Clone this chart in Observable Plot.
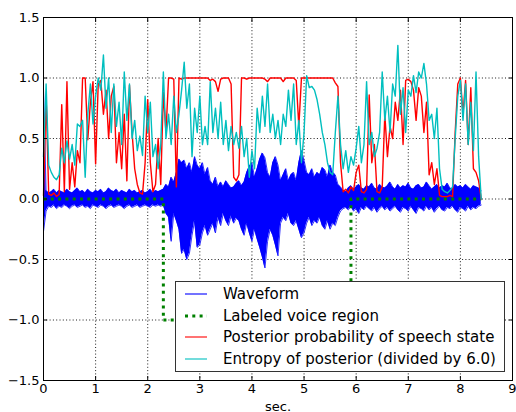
<!DOCTYPE html>
<html><head><meta charset="utf-8">
<script src="https://cdn.jsdelivr.net/npm/d3@7"></script>
<script src="https://cdn.jsdelivr.net/npm/@observablehq/plot@0.6"></script>
<style>
body{margin:0;background:#fff;font-family:"DejaVu Sans",sans-serif;}
#wrap{position:relative;width:516px;height:412px;}
#legend{position:absolute;left:175px;top:281px;width:330px;height:91px;border:1px solid #333;background:#fff;box-sizing:border-box;}
.row{position:absolute;left:0;height:20px;display:flex;align-items:center;font-size:15px;color:#000;white-space:nowrap;}
.row svg{display:block;}
</style></head><body><div id="wrap"></div>
<script>
// sample step (seconds) of every series below, one row per second
const dt = 0.05;

const posteriorRows = [
 [0.03,0.85,0.04,0.03,0.05,0.02,0.04,0.78,0.06,0.97,0.08,0.30,0.10,0.40,0.30,1.00,1.00,0.49,0.80,0.97],
 [0.29,0.95,0.98,0.70,0.90,0.50,0.85,0.93,0.30,0.55,0.25,0.70,0.15,0.94,0.55,0.25,0.12,0.05,0.04,0.30],
 [0.82,0.30,0.06,0.12,0.50,0.12,0.88,0.55,1.00,1.00,0.99,0.10,1.00,0.99,1.00,1.00,1.00,1.00,1.00,1.00],
 [1.00,1.00,1.00,1.00,0.98,0.99,0.97,0.89,0.99,1.00,1.00,1.00,0.95,0.18,0.15,0.20,1.00,1.00,0.99,1.00],
 [1.00,1.00,1.00,1.00,1.00,0.99,0.97,1.00,1.00,1.00,1.00,1.00,0.97,1.00,1.00,1.00,1.00,0.98,0.60,1.00],
 [1.00,1.00,1.00,1.00,1.00,1.00,1.00,1.00,1.00,1.00,1.00,1.00,0.96,0.93,0.30,0.06,0.08,0.05,0.10,0.07],
 [0.22,0.28,0.06,0.05,0.08,0.86,0.30,0.45,0.06,0.05,0.10,0.70,0.35,0.60,0.50,0.80,0.65,0.90,0.45,0.98],
 [0.99,0.97,0.90,0.65,0.92,0.85,0.55,0.80,0.20,0.30,0.12,0.25,0.03,0.02,0.02,0.02,0.03,0.02,0.55,0.95],
 [1.00,0.70,0.98,0.45,0.92,0.25,0.22,0.15,0.00]
];

const entropyRows = [
 [0.35,0.95,0.28,0.22,0.18,0.16,0.20,0.42,0.30,0.48,0.33,0.45,0.28,0.62,0.60,0.65,0.18,0.70,0.95,0.62],
 [0.85,1.00,0.90,1.19,0.75,1.00,0.55,0.95,0.60,0.80,0.45,1.05,0.65,0.95,0.50,0.65,0.40,0.52,0.36,0.85],
 [0.55,0.80,0.35,0.45,0.25,0.45,1.05,0.50,0.70,0.45,0.85,0.55,0.70,0.90,1.13,0.75,0.95,0.35,0.75,0.55],
 [0.85,0.45,0.60,0.45,0.97,0.55,0.75,0.50,0.80,0.45,0.65,0.40,0.60,0.45,0.55,0.42,0.60,0.35,0.50,0.18],
 [0.40,0.25,0.75,0.55,0.85,0.60,0.95,0.55,0.70,0.50,0.65,0.45,0.70,0.60,0.90,0.65,0.95,0.45,0.65,0.30],
 [0.55,1.02,0.92,0.93,0.90,0.82,0.70,0.55,0.45,0.30,0.22,0.20,0.55,0.85,0.45,0.25,0.40,0.22,0.35,0.28],
 [0.42,0.60,0.30,0.45,0.97,0.45,0.55,0.35,0.42,0.55,1.05,0.65,0.85,0.55,0.95,0.85,1.27,0.70,0.92,0.55],
 [0.90,0.85,1.02,0.88,1.05,1.00,1.12,0.95,0.65,0.70,0.50,0.75,0.25,0.08,0.06,0.05,0.07,0.10,0.50,0.85],
 [0.98,0.65,0.95,0.45,0.80,0.40,1.05,0.35,0.00]
];

const waveUpperRows = [
 [0.91,0.07,0.05,0.06,0.08,0.05,0.07,0.06,0.05,0.08,0.06,0.05,0.07,0.09,0.06,0.07,0.05,0.08,0.06,0.05],
 [0.07,0.06,0.08,0.05,0.06,0.09,0.07,0.06,0.08,0.05,0.07,0.06,0.05,0.08,0.06,0.07,0.05,0.06,0.07,0.05],
 [0.06,0.08,0.05,0.07,0.06,0.07,0.08,0.12,0.10,0.18,0.14,0.22,0.33,0.30,0.32,0.25,0.30,0.22,0.35,0.28],
 [0.25,0.30,0.20,0.26,0.15,0.12,0.18,0.10,0.14,0.10,0.15,0.12,0.09,0.10,0.13,0.15,0.11,0.14,0.22,0.27],
 [0.30,0.18,0.25,0.33,0.38,0.34,0.22,0.18,0.30,0.35,0.28,0.15,0.20,0.25,0.15,0.20,0.22,0.15,0.30,0.40],
 [0.32,0.22,0.20,0.25,0.18,0.22,0.20,0.26,0.24,0.18,0.28,0.22,0.20,0.12,0.10,0.07,0.06,0.09,0.11,0.08],
 [0.10,0.12,0.09,0.08,0.11,0.10,0.13,0.09,0.08,0.12,0.10,0.09,0.11,0.14,0.10,0.08,0.12,0.09,0.11,0.10],
 [0.13,0.09,0.08,0.11,0.12,0.09,0.10,0.14,0.11,0.08,0.10,0.12,0.09,0.11,0.10,0.13,0.09,0.08,0.12,0.10],
 [0.11,0.09,0.12,0.10,0.08,0.11,0.10,0.09,0.07]
];

const waveLowerRows = [
 [-0.27,-0.10,-0.06,-0.07,-0.05,-0.08,-0.06,-0.07,-0.05,-0.06,-0.08,-0.06,-0.05,-0.07,-0.06,-0.05,-0.07,-0.06,-0.08,-0.05],
 [-0.06,-0.07,-0.05,-0.06,-0.08,-0.06,-0.05,-0.07,-0.06,-0.05,-0.06,-0.08,-0.06,-0.05,-0.07,-0.06,-0.05,-0.07,-0.06,-0.05],
 [-0.06,-0.07,-0.05,-0.06,-0.05,-0.06,-0.05,-0.12,-0.15,-0.35,-0.12,-0.18,-0.25,-0.45,-0.42,-0.50,-0.45,-0.30,-0.18,-0.40],
 [-0.38,-0.28,-0.22,-0.30,-0.25,-0.20,-0.28,-0.15,-0.22,-0.12,-0.18,-0.22,-0.14,-0.20,-0.16,-0.18,-0.25,-0.30,-0.20,-0.28],
 [-0.35,-0.25,-0.33,-0.40,-0.48,-0.57,-0.35,-0.25,-0.30,-0.38,-0.47,-0.20,-0.15,-0.18,-0.12,-0.20,-0.22,-0.18,-0.25,-0.32],
 [-0.28,-0.20,-0.15,-0.22,-0.18,-0.20,-0.15,-0.22,-0.25,-0.18,-0.25,-0.20,-0.22,-0.15,-0.10,-0.08,-0.07,-0.09,-0.06,-0.10],
 [-0.08,-0.12,-0.07,-0.09,-0.06,-0.08,-0.10,-0.07,-0.11,-0.08,-0.06,-0.09,-0.07,-0.10,-0.08,-0.06,-0.09,-0.11,-0.07,-0.08],
 [-0.10,-0.06,-0.09,-0.12,-0.07,-0.08,-0.10,-0.06,-0.09,-0.07,-0.11,-0.08,-0.06,-0.09,-0.10,-0.07,-0.08,-0.06,-0.09,-0.11],
 [-0.07,-0.08,-0.10,-0.06,-0.09,-0.07,-0.08,-0.06,-0.05]
];

// labeled voice region (step function)
const labelTimes  = [0, 2.3, 2.3, 5.9, 5.9, 8.4];
const labelValues = [0, 0, -1, -1, 0, 0];

const xTicks = [0,1,2,3,4,5,6,7,8,9];
const yTicks = [-1.5,-1.0,-0.5,0.0,0.5,1.0,1.5];

const seriesNames = ["Waveform","Labeled voice region","Posterior probability of speech state","Entropy of posterior (divided by 6.0)"];
const seriesColors = ["#0000ff","#008000","#ff0000","#00bfbf"];

const posterior = posteriorRows.flat();
const entropy = entropyRows.flat();
const waveUpper = waveUpperRows.flat();
const waveLower = waveLowerRows.flat();
const n = Math.min(posterior.length, entropy.length, waveUpper.length, waveLower.length);
const frames = d3.range(n).map(i => ({t: +(i*dt).toFixed(3), hi: waveUpper[i], lo: waveLower[i], post: posterior[i], ent: entropy[i]}));
const labelPts = labelTimes.map((t,i) => ({t, v: labelValues[i]}));

const gridStyle = {stroke:"black", strokeOpacity:1, strokeWidth:0.9, strokeDasharray:"1,2.3"};
const fmt = d3.format(".1f");

const chart = Plot.plot({
  width: 516, height: 412,
  marginLeft: 43, marginRight: 4, marginTop: 17, marginBottom: 32,
  x: {domain: [0, 9]},
  y: {domain: [-1.5, 1.5]},
  style: {fontFamily: "'DejaVu Sans', sans-serif", fontSize: "13px", background: "white", color: "black", overflow: "visible"},
  marks: [
    Plot.gridX(xTicks, gridStyle),
    Plot.gridY(yTicks, gridStyle),
    Plot.areaY(frames, {x:"t", y1:"lo", y2:"hi", fill: seriesColors[0]}),
    Plot.line(frames, {x:"t", y:"hi", stroke: seriesColors[0], strokeWidth:0.8}),
    Plot.line(frames, {x:"t", y:"lo", stroke: seriesColors[0], strokeWidth:0.8}),
    Plot.line(labelPts, {x:"t", y:"v", stroke: seriesColors[1], strokeWidth:3, strokeDasharray:"3,4.3", strokeLinecap:"butt"}),
    Plot.line(frames, {x:"t", y:"post", stroke: seriesColors[2], strokeWidth:1.4}),
    Plot.line(frames, {x:"t", y:"ent", stroke: seriesColors[3], strokeWidth:1.4}),
    Plot.frame({stroke:"black", strokeWidth:1}),
    Plot.axisX(xTicks, {tickSize:-4, tickPadding:7, label:"sec.", labelAnchor:"center", labelArrow:"none", labelOffset:30, fontSize:13}),
    Plot.axisX(xTicks, {anchor:"top", tickSize:-4, tickFormat:() => "", label:null}),
    Plot.axisY(yTicks, {tickSize:-4, tickPadding:8, tickFormat: fmt, label:null, fontSize:13}),
    Plot.axisY(yTicks, {anchor:"right", tickSize:-4, tickFormat:() => "", label:null})
  ]
});
const wrap = document.getElementById("wrap");
wrap.appendChild(chart);

// legend box inside the axes (lower right)
const legend = d3.select(wrap).append("div").attr("id","legend");
const rowCenters = [11.7, 33.5, 55.3, 77];
seriesNames.forEach((name, i) => {
  const row = legend.append("div").attr("class","row").style("top", (rowCenters[i]-10) + "px");
  const s = row.append("svg").attr("width", 47).attr("height", 20);
  const ln = s.append("line").attr("x1", 9).attr("x2", 31).attr("y1", 10).attr("y2", 10).attr("stroke", seriesColors[i]);
  if (i === 1) ln.attr("stroke-width", 3).attr("stroke-dasharray", "3,4.3");
  else ln.attr("stroke-width", 1.1);
  row.append("span").text(name);
});
</script>
</body></html>
